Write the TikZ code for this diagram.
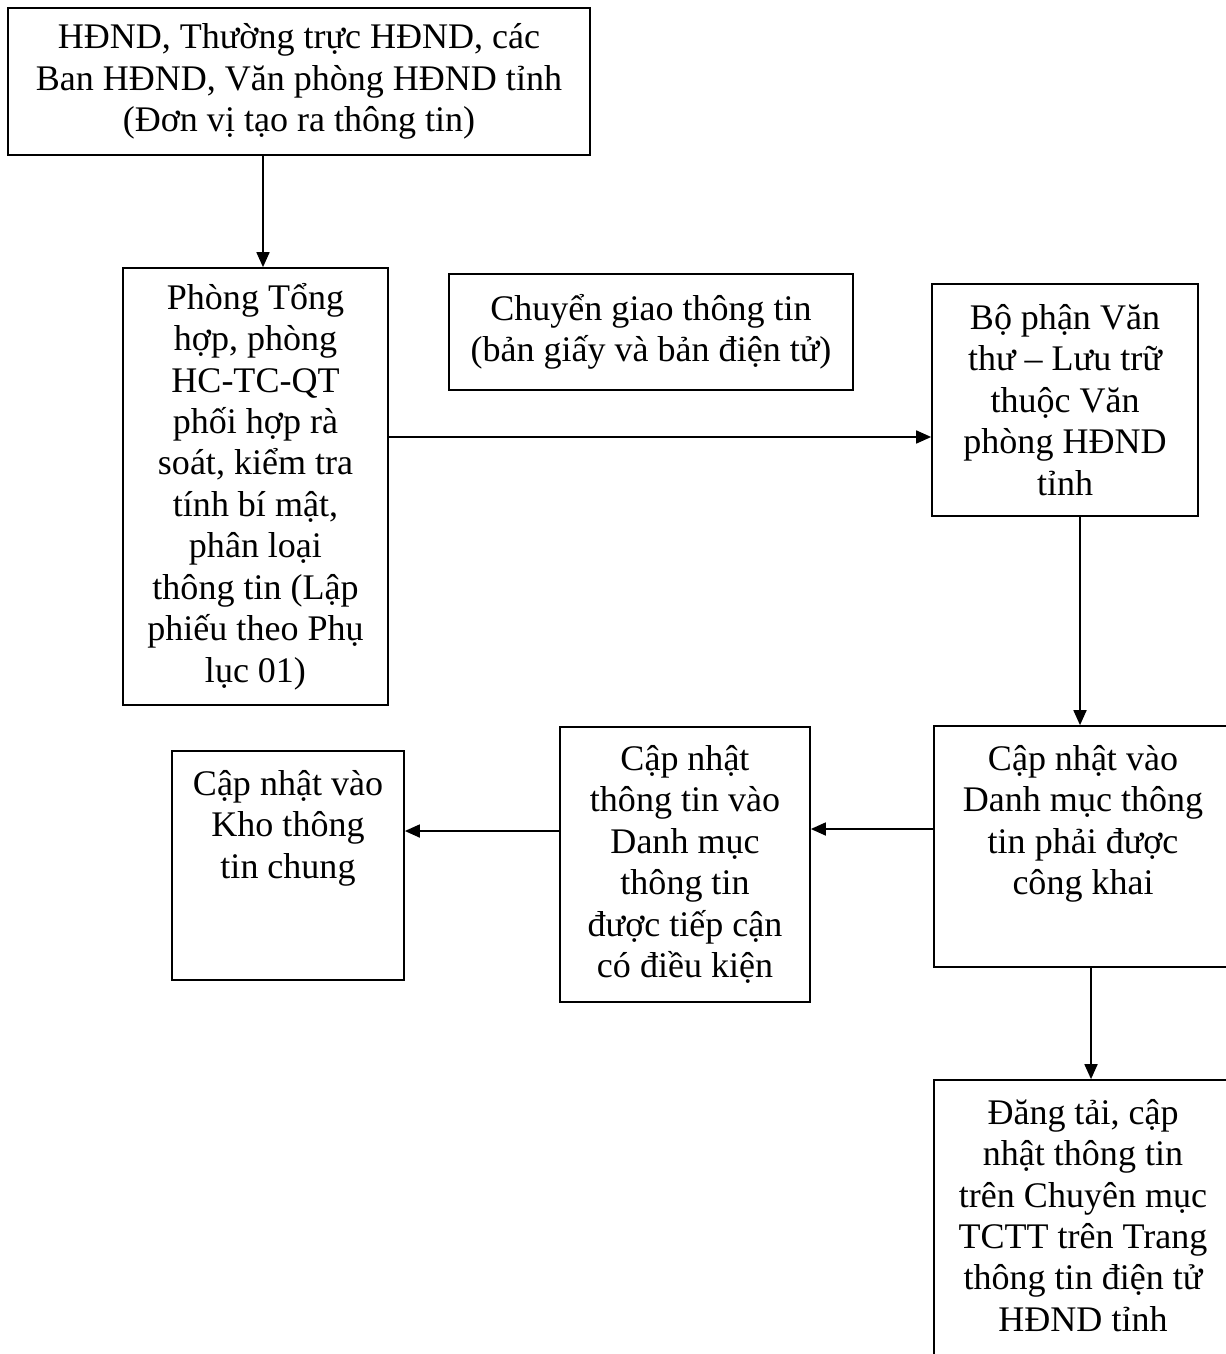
\documentclass[tikz,border=0pt]{standalone}
\usepackage{fontspec}
\setmainfont{Liberation Serif}
\usetikzlibrary{arrows.meta,positioning,calc}
\newcommand{\toptext}[3]{\parbox[c][#2][t]{#1}{\centering\vspace{0.38cm}#3}}
\tikzset{
  stepbox/.style={draw, line width=1pt, align=center, inner sep=0pt, font=\fontsize{20.5}{23.6}\selectfont},
  flow/.style={-{Triangle[length=3mm,width=2.6mm]}, line width=1pt}
}
\begin{document}
\begin{tikzpicture}[x=0.02cm, y=-0.02cm]
  \useasboundingbox (0,0) rectangle (1225,1354);
  \node[stepbox, minimum width=11.64cm, minimum height=2.94cm] (src) at (299,81.5) {HĐND, Thường trực HĐND, các\\Ban HĐND, Văn phòng HĐND tỉnh\\(Đơn vị tạo ra thông tin)};
  \node[stepbox, minimum width=5.3cm, minimum height=8.74cm] (rev) at (255.5,486.5) {Phòng Tổng\\hợp, phòng\\HC-TC-QT\\phối hợp rà\\soát, kiểm tra\\tính bí mật,\\phân loại\\thông tin (Lập\\phiếu theo Phụ\\lục 01)};
  \node[stepbox, minimum width=8.08cm, minimum height=2.32cm] (xfer) at (651,332) {Chuyển giao thông tin\\(bản giấy và bản điện tử)};
  \node[stepbox, minimum width=5.32cm, minimum height=4.64cm] (arch) at (1065,400) {Bộ phận Văn\\thư -- Lưu trữ\\thuộc Văn\\phòng HĐND\\tỉnh};
  \node[stepbox] (pub) at (1083,846.5) {\toptext{5.96cm}{4.82cm}{Cập nhật vào\\Danh mục thông\\tin phải được\\công khai}};
  \node[stepbox, minimum width=5cm, minimum height=5.5cm] (cond) at (685,864.5) {Cập nhật\\thông tin vào\\Danh mục\\thông tin\\được tiếp cận\\có điều kiện};
  \node[stepbox] (store) at (288,865.5) {\toptext{4.64cm}{4.58cm}{Cập nhật vào\\Kho thông\\tin chung}};
  \node[stepbox] (post) at (1083,1222.5) {\toptext{5.96cm}{5.7cm}{Đăng tải, cập\\nhật thông tin\\trên Chuyên mục\\TCTT trên Trang\\thông tin điện tử\\HĐND tỉnh}};

  \draw[flow] ([xshift=0.15cm]rev.north |- src.south) -- ([xshift=0.15cm]rev.north);
  \draw[flow] ([yshift=-0.74cm]arch.west -| rev.east) -- ([yshift=-0.74cm]arch.west);
  \draw[flow] ([xshift=0.3cm]arch.south) -- ([xshift=0.3cm]arch.south |- pub.north);
  \draw[flow] ([yshift=0.35cm]pub.west) -- ([yshift=0.35cm]pub.west -| cond.east);
  \draw[flow] ([yshift=0.67cm]cond.west) -- ([yshift=0.67cm]cond.west -| store.east);
  \draw[flow] ([xshift=0.16cm]pub.south) -- ([xshift=0.16cm]post.north);
\end{tikzpicture}
\end{document}
